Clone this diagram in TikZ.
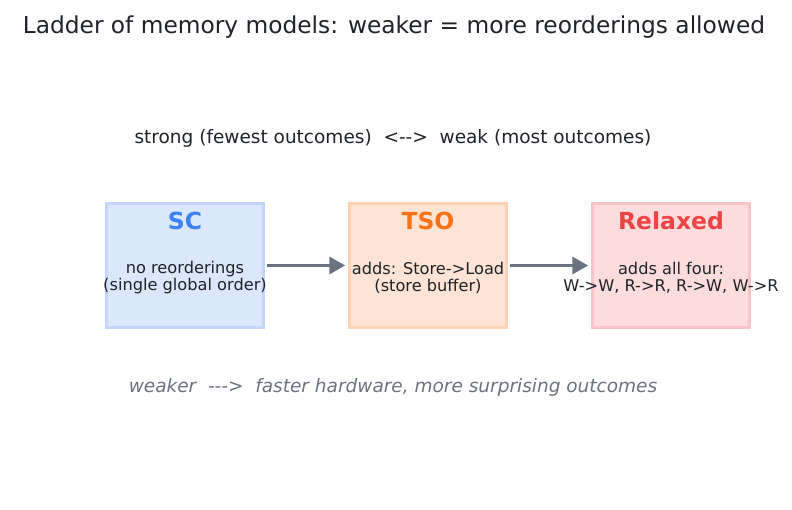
\documentclass[tikz,border=0pt]{standalone}
\usepackage{fontspec}
\setmainfont{DejaVu Sans}
\usetikzlibrary{arrows.meta}

\definecolor{inkc}{HTML}{1F2328}
\definecolor{greyc}{HTML}{6B7280}
\definecolor{scfill}{HTML}{DBE7FD}
\definecolor{scline}{HTML}{C3D5FA}
\definecolor{sctext}{HTML}{3B82F6}
\definecolor{tsofill}{HTML}{FDE4D4}
\definecolor{tsoline}{HTML}{FBD3B5}
\definecolor{tsotext}{HTML}{F97316}
\definecolor{rlxfill}{HTML}{FCDCDD}
\definecolor{rlxline}{HTML}{F8C4C7}
\definecolor{rlxtext}{HTML}{EF4444}

\tikzset{
  model/.style={draw=#1line, fill=#1fill, line width=2.5pt, minimum width=157pt, minimum height=124pt, inner sep=0pt},
  modeltitle/.style={font=\fontsize{23.5}{26}\selectfont\bfseries, text=#1text, anchor=center},
  modelbody/.style={font=\fontsize{16.2}{17}\selectfont, text=inkc, align=center},
  ladder arrow/.style={-{Triangle[length=16pt,width=17pt]}, line width=3.5pt, draw=greyc}
}

\begin{document}
\begin{tikzpicture}[x=1pt, y=-1pt]
    % Canvas
    \useasboundingbox (0,0) rectangle (792,510);

    % Title
    \node[font=\fontsize{23.3}{26}\selectfont, text=inkc] (title) at (394,27.5) {Ladder of memory models: weaker = more reorderings allowed};

    % Strength scale
    \node[font=\fontsize{18.5}{21}\selectfont, text=inkc] (scale) at (393,138.5) {strong (fewest outcomes)\ \ <{-}{-}>\ \ weak (most outcomes)};

    % Models
    \node[model=sc] (sc) at (185,265.5) {};
    \node[model=tso] (tso) at (428,265.5) {};
    \node[model=rlx] (rlx) at (671,265.5) {};

    \node[modeltitle=sc] (sctitle) at (185,221) {SC};
    \node[modeltitle=tso] (tsotitle) at (428,221) {TSO};
    \node[modeltitle=rlx] (rlxtitle) at (671,221) {Relaxed};

    \node[modelbody] (scbody) at (185,277.5) {no reorderings\\(single global order)};
    \node[modelbody] (tsobody) at (428,277.5) {adds: Store->Load\\(store buffer)};
    \node[modelbody] (rlxbody) at (671,277.5) {adds all four:\\W->W, R->R, R->W, W->R};

    % Arrows
    \draw[ladder arrow] ([xshift=2pt]sc.east) -- ([xshift=-3pt]tso.west);
    \draw[ladder arrow] ([xshift=2pt]tso.east) -- ([xshift=-3pt]rlx.west);

    % Footnote
    \node[font=\fontsize{18.5}{21}\selectfont\itshape, text=greyc] (foot) at (393,387) {weaker\ \ {-}{-}{-}>\ \ faster hardware, more surprising outcomes};
\end{tikzpicture}
\end{document}
